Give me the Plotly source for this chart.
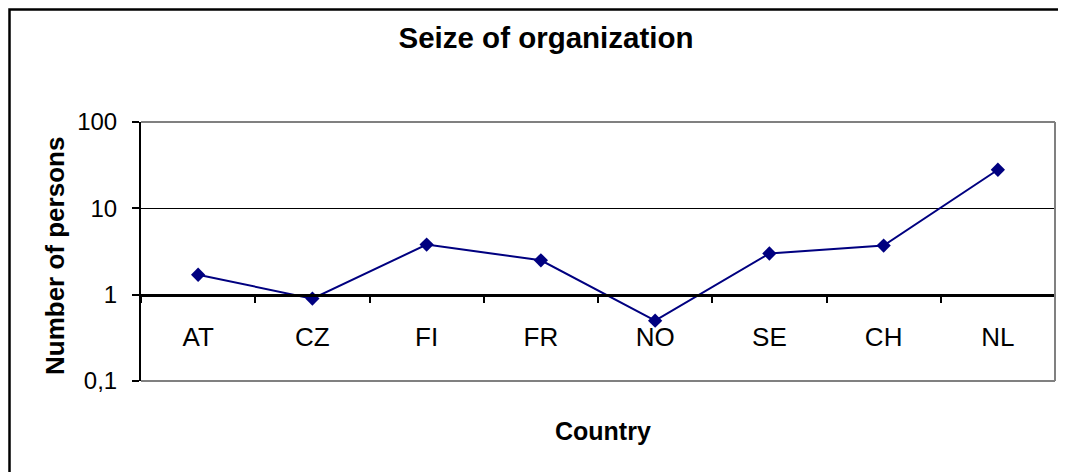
import plotly.graph_objects as go

countries = ["AT", "CZ", "FI", "FR", "NO", "SE", "CH", "NL"]
persons = [1.7, 0.9, 3.8, 2.5, 0.5, 3.0, 3.7, 28]
y_tickvals = [0.1, 1, 10, 100]
y_ticktext = ["0,1", "1", "10", "100"]

FONT = "Arial, Liberation Sans, sans-serif"
W, H = 1066, 472
OFF = 8  # page body margin offset
# plot area in screenshot coordinates: x 141..1055, y 122..381
PX0, PX1, PY0, PY1 = 141, 1055, 122, 381
L = PX0 - OFF
T = PY0 - OFF
PW = PX1 - PX0
PH = PY1 - PY0
R = W - L - PW
B = H - T - PH


def px(x):
    return (x - PX0) / PW


def py(y):
    return (PY1 - y) / PH


fig = go.Figure()
fig.add_trace(go.Scatter(
    x=countries, y=persons, mode="lines+markers",
    line=dict(color="#000080", width=2),
    marker=dict(symbol="diamond", size=11, color="#000080"),
    showlegend=False, cliponaxis=False,
))

fig.update_layout(
    width=W, height=H,
    margin=dict(l=L, r=R, t=T, b=B, pad=0),
    paper_bgcolor="white", plot_bgcolor="white",
    font=dict(family=FONT, color="black"),
    title=dict(text="<b>Seize of organization</b>", font=dict(size=29.5, family=FONT),
               x=(546 - OFF) / W, xref="container", xanchor="center",
               y=1 - (38 - OFF) / H, yref="container", yanchor="middle"),
    xaxis=dict(
        type="category", range=[-0.5, 7.5], anchor="free", position=1 / 3,
        showline=True, linecolor="black", linewidth=2.5,
        ticks="outside", tickson="boundaries", ticklen=7, tickwidth=1.5, tickcolor="black",
        tickfont=dict(size=26, family=FONT), ticklabelstandoff=18,
        showgrid=False, zeroline=False,
    ),
    yaxis=dict(
        type="log", range=[-1, 2], domain=[0, 1],
        tickvals=y_tickvals, ticktext=y_ticktext,
        showline=True, linecolor="black", linewidth=2,
        ticks="outside", ticklen=7, tickwidth=1.5, tickcolor="black",
        tickfont=dict(size=24, family=FONT), ticklabelstandoff=10,
        showgrid=True, gridcolor="black", gridwidth=1, zeroline=False,
    ),
    shapes=[
        dict(type="line", xref="paper", yref="paper", x0=0, x1=1, y0=1, y1=1,
             line=dict(color="#808080", width=2), layer="above"),
        dict(type="line", xref="paper", yref="paper", x0=1, x1=1, y0=0, y1=1,
             line=dict(color="#808080", width=2), layer="above"),
        dict(type="line", xref="paper", yref="paper", x0=0, x1=1, y0=0, y1=0,
             line=dict(color="#808080", width=2), layer="above"),
        dict(type="rect", xref="paper", yref="paper",
             x0=px(9.5), x1=px(1090), y0=py(500), y1=py(9.5),
             line=dict(color="black", width=2.5), fillcolor="rgba(0,0,0,0)", layer="above"),
    ],
    annotations=[
        dict(text="<b>Number of persons</b>", textangle=-90, showarrow=False,
             xref="paper", yref="paper", x=px(55), y=py(256),
             xanchor="center", yanchor="middle", font=dict(size=26, family=FONT)),
        dict(text="<b>Country</b>", showarrow=False,
             xref="paper", yref="paper", x=px(603), y=py(431),
             xanchor="center", yanchor="middle", font=dict(size=25, family=FONT)),
    ],
)

fig.write_html("out.html")
